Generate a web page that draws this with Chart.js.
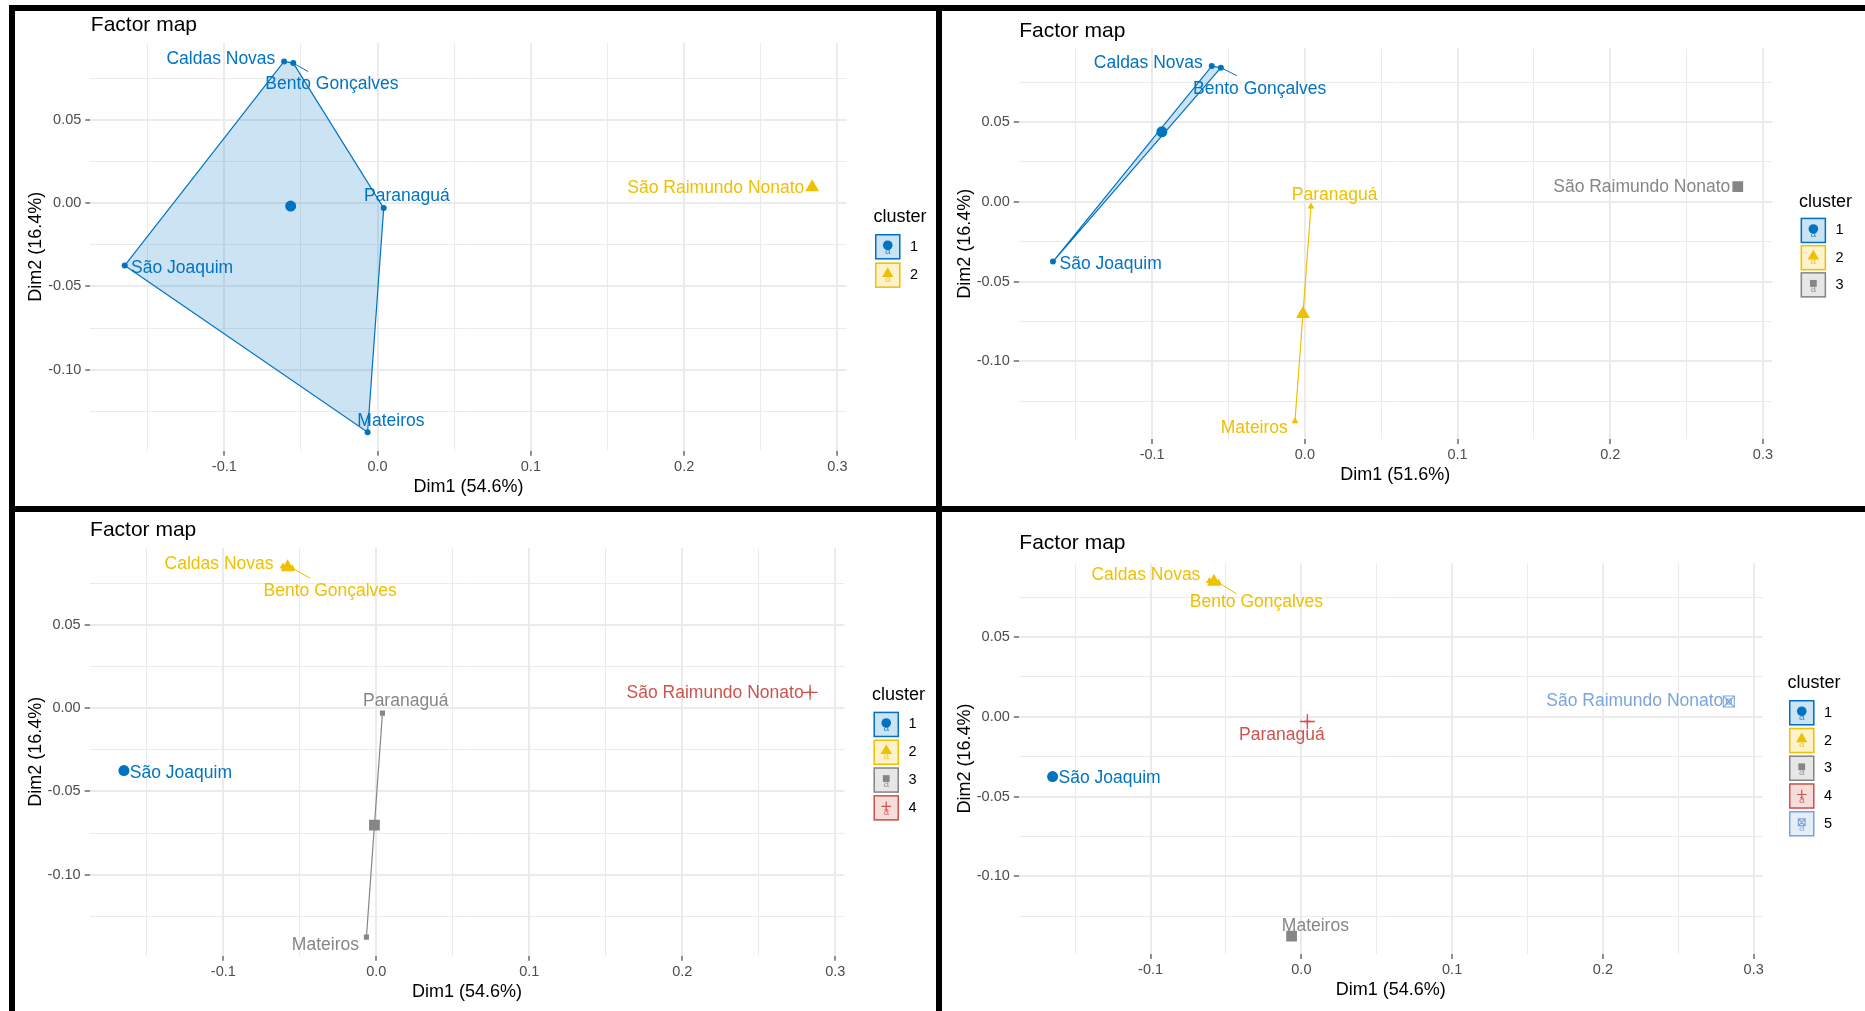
<!DOCTYPE html>
<html>
<head>
<meta charset="utf-8">
<title>Factor map</title>
<script src="https://cdn.jsdelivr.net/npm/chart.js@4.4.1/dist/chart.umd.min.js"></script>
<style>
  html, body { margin: 0; padding: 0; background: #fff; }
  #page { position: relative; width: 1865px; height: 1011px; overflow: hidden; background: #fff; }
  #page canvas { position: absolute; left: 0; top: 0; }
  .rule { position: absolute; background: #000; }
</style>
</head>
<body>
<div id="page">
  <canvas id="k2" width="1865" height="1011"></canvas>
  <canvas id="k3" width="1865" height="1011"></canvas>
  <canvas id="k4" width="1865" height="1011"></canvas>
  <canvas id="k5" width="1865" height="1011"></canvas>
  <div class="rule" style="left:9px;top:5px;width:1856px;height:6px"></div>
  <div class="rule" style="left:9px;top:5px;width:6px;height:1006px"></div>
  <div class="rule" style="left:936px;top:5px;width:6px;height:1006px"></div>
  <div class="rule" style="left:9px;top:506px;width:1856px;height:6px"></div>
</div>
<script>
// ---- data: PCA coordinates of the six municipalities ----
const cities = ['Caldas Novas', 'Bento Gonçalves', 'Paranaguá', 'São Joaquim', 'Mateiros', 'São Raimundo Nonato'];
const dim1 = [-0.061, -0.055, 0.004, -0.165, -0.0065, 0.2835];
const dim2 = [0.085, 0.084, -0.003, -0.0375, -0.1375, 0.0095];

// cluster membership for k = 2, 3, 4, 5
const clustersK2 = [1, 1, 1, 1, 1, 2];
const clustersK3 = [1, 1, 2, 1, 2, 3];
const clustersK4 = [2, 2, 3, 1, 3, 4];
const clustersK5 = [2, 2, 4, 1, 3, 5];

// axis ticks
const xTickValues = [-0.1, 0, 0.1, 0.2, 0.3];
const xTickLabels = ['-0.1', '0.0', '0.1', '0.2', '0.3'];
const xMinorValues = [-0.15, -0.05, 0.05, 0.15, 0.25];
const yTickValues = [-0.1, -0.05, 0, 0.05];
const yTickLabels = ['-0.10', '-0.05', '0.00', '0.05'];
const yMinorValues = [-0.125, -0.075, -0.025, 0.025, 0.075];

// text
const plotTitle = 'Factor map';
const dim1Titles = ['Dim1 (54.6%)', 'Dim1 (51.6%)', 'Dim1 (54.6%)', 'Dim1 (54.6%)'];
const dim2Title = 'Dim2 (16.4%)';
const legendTitle = 'cluster';

// ---- styling ----
const FONT = '"Liberation Sans", Arial, Helvetica, sans-serif';
const palette = ['#0073C2', '#EFC000', '#868686', '#CD534C', '#7AA6DC'];
const fills = ['rgba(0,115,194,0.2)', 'rgba(239,192,0,0.2)', 'rgba(134,134,134,0.2)', 'rgba(205,83,76,0.2)', 'rgba(122,166,220,0.2)'];
const shapes = ['circle', 'triangle', 'square', 'plus', 'squarecross'];
const markerRadius = {
  circle: [3, 5.5], triangle: [4, 8], square: [3.6, 7.6], plus: [3.5, 7.5], squarecross: [3.5, 7.8]
};

const panels = [
  { canvas: 'k2', clusters: clustersK2, xTitle: 0,
    area: { l: 90.3, r: 846.5, t: 42.9, b: 450.7 }, titleBase: 30.5,
    legend: { x: 875, titleY: 217, top: 234, step: 28.4 },
    labelShift: [[-63.2, -2.4], [38.6, 20.9], [23.2, -11.6], [57.4, 2.5], [23.3, -10.7], [-96.3, 0.8]],
    leader: [15, 8.5] },
  { canvas: 'k3', clusters: clustersK3, xTitle: 1,
    area: { l: 1018.7, r: 1772, t: 48.3, b: 439 }, titleBase: 36.7,
    legend: { x: 1800.6, titleY: 201.7, top: 217.7, step: 27.2 },
    labelShift: [[-63.4, -3], [38.8, 21.4], [23.7, -11.8], [57.7, 2.4], [-40.7, 6.8], [-96, 0.5]],
    leader: [16, 8] },
  { canvas: 'k4', clusters: clustersK4, xTitle: 2,
    area: { l: 89.6, r: 844.4, t: 548, b: 955.7 }, titleBase: 535.7,
    legend: { x: 873.5, titleY: 695, top: 711.7, step: 27.8 },
    labelShift: [[-64, -2.4], [38, 22.6], [23.3, -11.6], [57, 2.5], [-41, 7.6], [-95, 1]],
    leader: [18, 10] },
  { canvas: 'k5', clusters: clustersK5, xTitle: 3,
    area: { l: 1018.8, r: 1762.6, t: 563.3, b: 953.9 }, titleBase: 549.3,
    legend: { x: 1789, titleY: 682.7, top: 700, step: 27.75 },
    labelShift: [[-63.5, -5.6], [38, 19.8], [-25.5, 13.2], [57, 2], [23.8, -9.8], [-94, 0]],
    leader: [18, 11] }
];

// ggplot-style 5% expansion of the data range
function expanded(values) {
  const lo = Math.min(...values), hi = Math.max(...values), pad = (hi - lo) * 0.05;
  return [lo - pad, hi + pad];
}
const xRange = expanded(dim1);
const yRange = expanded(dim2);

const mean = arr => arr.reduce((s, v) => s + v, 0) / arr.length;

function convexHull(pts) {
  const s = pts.slice().sort((a, b) => a.x - b.x || a.y - b.y);
  if (s.length < 3) return s;
  const cross = (o, a, b) => (a.x - o.x) * (b.y - o.y) - (a.y - o.y) * (b.x - o.x);
  const lower = [];
  for (const q of s) {
    while (lower.length >= 2 && cross(lower[lower.length - 2], lower[lower.length - 1], q) <= 0) lower.pop();
    lower.push(q);
  }
  const upper = [];
  for (const q of s.slice().reverse()) {
    while (upper.length >= 2 && cross(upper[upper.length - 2], upper[upper.length - 1], q) <= 0) upper.pop();
    upper.push(q);
  }
  upper.pop(); lower.pop();
  return lower.concat(upper);
}

function markerDatasets(points, shape, color, radius) {
  const base = { data: points, showLine: false, order: 0, pointRadius: radius, pointHoverRadius: radius };
  if (shape === 'circle') return [{ ...base, pointStyle: 'circle', pointBackgroundColor: color, pointBorderWidth: 0 }];
  if (shape === 'triangle') return [{ ...base, pointStyle: 'triangle', pointBackgroundColor: color, pointBorderWidth: 0 }];
  if (shape === 'square') return [{ ...base, pointStyle: 'rect', pointBackgroundColor: color, pointBorderWidth: 0 }];
  if (shape === 'plus') return [{ ...base, pointStyle: 'cross', pointBackgroundColor: color, pointBorderColor: color, pointBorderWidth: 1.3 }];
  return [
    { ...base, pointStyle: 'rect', pointBackgroundColor: 'rgba(0,0,0,0)', pointBorderColor: color, pointBorderWidth: 1.1 },
    { ...base, pointStyle: 'crossRot', pointBackgroundColor: color, pointBorderColor: color, pointBorderWidth: 1.1 }
  ];
}

function isOneOf(list, v) { return list.some(m => Math.abs(m - v) < 1e-9); }

function axisOptions(isX) {
  const major = isX ? xTickValues : yTickValues;
  const labels = isX ? xTickLabels : yTickLabels;
  const minor = isX ? xMinorValues : yMinorValues;
  const range = isX ? xRange : yRange;
  return {
    type: 'linear',
    position: isX ? 'bottom' : 'left',
    min: range[0], max: range[1], bounds: 'data',
    afterBuildTicks: s => { s.ticks = [...minor, ...major].sort((a, b) => a - b).map(v => ({ value: v })); },
    afterFit: s => { if (isX) s.height = 40; else s.width = 50; },
    ticks: {
      autoSkip: false, maxRotation: 0, minRotation: 0,
      padding: isX ? 2.5 : 4,
      color: '#4D4D4D',
      font: { family: FONT, size: 14.5 },
      callback: v => { const j = major.findIndex(m => Math.abs(m - v) < 1e-9); return j >= 0 ? labels[j] : ''; }
    },
    grid: {
      drawOnChartArea: true, drawTicks: true, tickLength: 5,
      color: '#EBEBEB',
      lineWidth: c => (c.tick && isOneOf(major, c.tick.value)) ? 2 : 1,
      tickColor: c => (c.tick && isOneOf(major, c.tick.value)) ? '#333333' : 'rgba(0,0,0,0)',
      tickWidth: 1.1
    },
    border: { display: false },
    title: { display: false }
  };
}

function drawGlyph(ctx, shape, x, y, r, color) {
  ctx.save();
  ctx.fillStyle = color; ctx.strokeStyle = color; ctx.lineWidth = 1.2;
  ctx.beginPath();
  if (shape === 'circle') { ctx.arc(x, y, r, 0, Math.PI * 2); ctx.fill(); }
  else if (shape === 'triangle') {
    const w = r * Math.sqrt(3) / 2;
    ctx.moveTo(x, y - r); ctx.lineTo(x + w, y + r / 2); ctx.lineTo(x - w, y + r / 2); ctx.closePath(); ctx.fill();
  } else if (shape === 'square') { const h = r * Math.SQRT1_2; ctx.rect(x - h, y - h, 2 * h, 2 * h); ctx.fill(); }
  else if (shape === 'plus') { ctx.moveTo(x - r, y); ctx.lineTo(x + r, y); ctx.moveTo(x, y - r); ctx.lineTo(x, y + r); ctx.stroke(); }
  else {
    const h = r * Math.SQRT1_2;
    ctx.rect(x - h, y - h, 2 * h, 2 * h);
    ctx.moveTo(x - h, y - h); ctx.lineTo(x + h, y + h); ctx.moveTo(x + h, y - h); ctx.lineTo(x - h, y + h);
    ctx.stroke();
  }
  ctx.restore();
}

function panelDecor(p, nClusters) {
  return {
    id: 'panelDecor',
    afterDraw(chart) {
      const ctx = chart.ctx, xs = chart.scales.x, ys = chart.scales.y, area = chart.chartArea;
      ctx.save();
      // plot title
      ctx.fillStyle = '#000';
      ctx.font = `21px ${FONT}`;
      ctx.textAlign = 'left'; ctx.textBaseline = 'alphabetic';
      ctx.fillText(plotTitle, area.left + 0.5, p.titleBase);
      // axis titles
      ctx.font = `18px ${FONT}`;
      ctx.textAlign = 'center'; ctx.textBaseline = 'middle';
      ctx.fillText(dim1Titles[p.xTitle], (area.left + area.right) / 2, area.bottom + 36);
      ctx.save();
      ctx.translate(area.left - 54, (area.top + area.bottom) / 2);
      ctx.rotate(-Math.PI / 2);
      ctx.fillText(dim2Title, 0, 0);
      ctx.restore();

      // leader segment for the repelled label
      const bx = xs.getPixelForValue(dim1[1]), by = ys.getPixelForValue(dim2[1]);
      ctx.strokeStyle = palette[p.clusters[1] - 1]; ctx.lineWidth = 1;
      ctx.beginPath(); ctx.moveTo(bx, by); ctx.lineTo(bx + p.leader[0], by + p.leader[1]); ctx.stroke();

      // point labels
      ctx.font = `17.5px ${FONT}`;
      cities.forEach((name, i) => {
        const px = xs.getPixelForValue(dim1[i]), py = ys.getPixelForValue(dim2[i]);
        ctx.fillStyle = palette[p.clusters[i] - 1];
        ctx.fillText(name, px + p.labelShift[i][0], py + p.labelShift[i][1]);
      });

      // legend
      const L = p.legend;
      ctx.fillStyle = '#000';
      ctx.font = `18px ${FONT}`;
      ctx.textAlign = 'left'; ctx.textBaseline = 'middle';
      ctx.fillText(legendTitle, L.x - 1.5, L.titleY);
      for (let k = 1; k <= nClusters; k++) {
        const top = L.top + (k - 1) * L.step, w = 25.5, h = 25.5;
        const cx = L.x + w / 2, cy = top + h / 2;
        ctx.fillStyle = fills[k - 1];
        ctx.fillRect(L.x, top, w, h);
        ctx.strokeStyle = palette[k - 1]; ctx.lineWidth = 1.5;
        ctx.strokeRect(L.x + 0.75, top + 0.75, w - 1.5, h - 1.5);
        drawGlyph(ctx, shapes[k - 1], cx, cy - 1.5, shapes[k - 1] === 'triangle' ? 6.5 : 4.8, palette[k - 1]);
        ctx.fillStyle = palette[k - 1];
        ctx.globalAlpha = 0.8;
        ctx.font = `10px ${FONT}`;
        ctx.textAlign = 'center';
        ctx.fillText('a', cx, cy + 4);
        ctx.globalAlpha = 1;
        ctx.fillStyle = '#000';
        ctx.font = `14.5px ${FONT}`;
        ctx.textAlign = 'left';
        ctx.fillText(String(k), L.x + 35, cy);
      }
      ctx.restore();
    }
  };
}

function buildPanel(p) {
  const nClusters = Math.max(...p.clusters);
  const datasets = [];
  for (let k = 1; k <= nClusters; k++) {
    const members = cities.map((_, i) => i).filter(i => p.clusters[i] === k);
    const pts = members.map(i => ({ x: dim1[i], y: dim2[i] }));
    const color = palette[k - 1], shape = shapes[k - 1];
    if (pts.length >= 2) {
      const hull = convexHull(pts);
      datasets.push({
        data: hull.concat([hull[0]]), showLine: true, order: 5,
        pointRadius: 0, pointHoverRadius: 0,
        borderColor: color, borderWidth: 1.2, backgroundColor: fills[k - 1],
        fill: hull.length >= 3 ? 'shape' : false, tension: 0
      });
    }
    datasets.push(...markerDatasets(pts, shape, color, markerRadius[shape][0]));
    const centre = { x: mean(pts.map(q => q.x)), y: mean(pts.map(q => q.y)) };
    datasets.push(...markerDatasets([centre], shape, color, markerRadius[shape][1]));
  }
  const a = p.area;
  new Chart(document.getElementById(p.canvas), {
    type: 'scatter',
    data: { datasets },
    options: {
      responsive: false, animation: false, devicePixelRatio: 1,
      layout: { padding: { left: a.l - 50, right: 1865 - a.r, top: a.t, bottom: 1011 - a.b - 40 } },
      scales: { x: axisOptions(true), y: axisOptions(false) },
      plugins: { legend: { display: false }, tooltip: { enabled: false }, title: { display: false } },
      events: []
    },
    plugins: [panelDecor(p, nClusters)]
  });
}

panels.forEach(buildPanel);
</script>
</body>
</html>
